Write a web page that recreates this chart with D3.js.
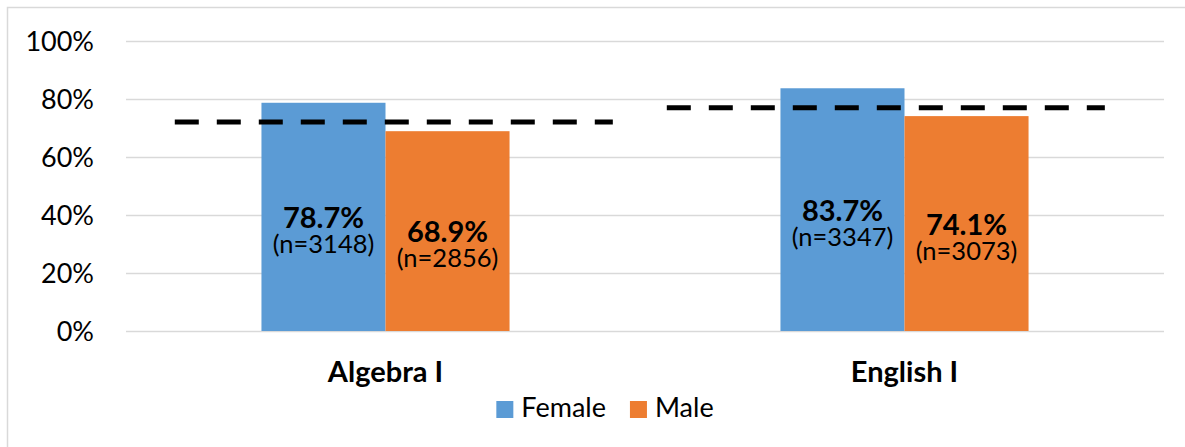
<!DOCTYPE html>
<html>
<head>
<meta charset="utf-8">
<script src="https://cdn.jsdelivr.net/npm/d3@7"></script>
<style>
  html, body { margin: 0; padding: 0; background: #fff; }
  svg { display: block; font-family: Lato, "Liberation Sans", sans-serif; }
</style>
</head>
<body>
<svg id="chart" width="1185" height="447"></svg>
<script>
// Pass rates by course and gender
const categories = ["Algebra I", "English I"];
const seriesNames = ["Female", "Male"];
const femaleRates = [78.7, 83.7];
const maleRates = [68.9, 74.1];
const femaleCounts = [3148, 3347];
const maleCounts = [2856, 3073];
// Overall rate per course, drawn as a dashed reference line
const overallRates = [72.1, 77.0];
const yTicks = [0, 20, 40, 60, 80, 100];

// Layout
const W = 1185, H = 447;
const plot = { left: 126, right: 1164, top: 41, bottom: 331 };
const groupShare = 0.478;            // share of each category band taken by its bars
const refSpans = [[0.094, 0.938], [1.042, 1.886]]; // reference line extents, in band units
const colors = { Female: "#5B9BD5", Male: "#ED7D31" };

const svg = d3.select("#chart");

// outer frame
svg.append("rect")
  .attr("x", 7.5).attr("y", 7.5)
  .attr("width", W).attr("height", H)
  .attr("fill", "none").attr("stroke", "#d9d9d9").attr("stroke-width", 1.5);

const x0 = d3.scaleBand().domain(categories).range([plot.left, plot.right]).padding(0);
const bw = x0.bandwidth();
const groupW = bw * groupShare;
const x1 = d3.scaleBand().domain(seriesNames)
  .range([(bw - groupW) / 2, (bw + groupW) / 2]).padding(0);
const y = d3.scaleLinear().domain([0, 100]).range([plot.bottom, plot.top]);
const xUnits = d3.scaleLinear().domain([0, categories.length]).range([plot.left, plot.right]);

// y axis with gridlines
const yAxis = svg.append("g")
  .attr("transform", `translate(${plot.left},0)`)
  .call(d3.axisLeft(y).tickValues(yTicks)
    .tickSize(-(plot.right - plot.left)).tickPadding(32)
    .tickFormat(d => d + "%"));
yAxis.select(".domain").remove();
yAxis.selectAll(".tick line").attr("stroke", "#d9d9d9").attr("stroke-width", 1.5);
yAxis.selectAll(".tick text")
  .attr("fill", "#000").attr("font-size", 27)
  .attr("font-family", "Lato, 'Liberation Sans', sans-serif")
  .attr("dy", "0.36em");

// bars
const rows = categories.map((c, i) => ({
  category: c,
  bars: [
    { series: "Female", value: femaleRates[i], n: femaleCounts[i] },
    { series: "Male", value: maleRates[i], n: maleCounts[i] }
  ]
}));

const groups = svg.selectAll("g.group").data(rows).join("g")
  .attr("class", "group")
  .attr("transform", d => `translate(${x0(d.category)},0)`);

groups.selectAll("rect").data(d => d.bars).join("rect")
  .attr("x", d => x1(d.series))
  .attr("width", x1.bandwidth())
  .attr("y", d => y(d.value))
  .attr("height", d => y(0) - y(d.value))
  .attr("fill", d => colors[d.series]);

// value labels inside bars
const labels = groups.selectAll("g.label").data(d => d.bars).join("g")
  .attr("class", "label")
  .attr("transform", d => {
    const cx = x1(d.series) + x1.bandwidth() / 2;
    const cy = (y(d.value) + y(0)) / 2 + 11;
    return `translate(${cx},${cy})`;
  });
labels.append("text")
  .attr("text-anchor", "middle")
  .attr("font-size", 29).attr("font-weight", "bold").attr("fill", "#000")
  .text(d => d.value.toFixed(1) + "%");
labels.append("text")
  .attr("text-anchor", "middle").attr("y", 25)
  .attr("font-size", 25.5).attr("fill", "#000")
  .text(d => `(n=${d.n})`);

// dashed reference lines
svg.selectAll("line.ref").data(overallRates).join("line")
  .attr("class", "ref")
  .attr("x1", (d, i) => xUnits(refSpans[i][0]))
  .attr("x2", (d, i) => xUnits(refSpans[i][1]))
  .attr("y1", d => y(d)).attr("y2", d => y(d))
  .attr("stroke", "#000").attr("stroke-width", 5)
  .attr("stroke-dasharray", "24 18");

// category labels
svg.selectAll("text.cat").data(categories).join("text")
  .attr("class", "cat")
  .attr("x", d => x0(d) + bw / 2).attr("y", 382)
  .attr("text-anchor", "middle")
  .attr("font-size", 29).attr("font-weight", "bold").attr("fill", "#000")
  .text(d => d);

// legend
const legend = svg.append("g");
const items = legend.selectAll("g").data(seriesNames).join("g");
items.append("rect").attr("width", 17).attr("height", 17).attr("y", -16)
  .attr("fill", d => colors[d]);
items.append("text").attr("x", 25).attr("y", 0)
  .attr("font-size", 27).attr("fill", "#000").text(d => d);
let offset = 0;
items.each(function () {
  d3.select(this).attr("transform", `translate(${offset},0)`);
  offset += this.getBBox().width + 24;
});
const legendW = offset - 24;
legend.attr("transform", `translate(${605 - legendW / 2},417)`);
</script>
</body>
</html>
